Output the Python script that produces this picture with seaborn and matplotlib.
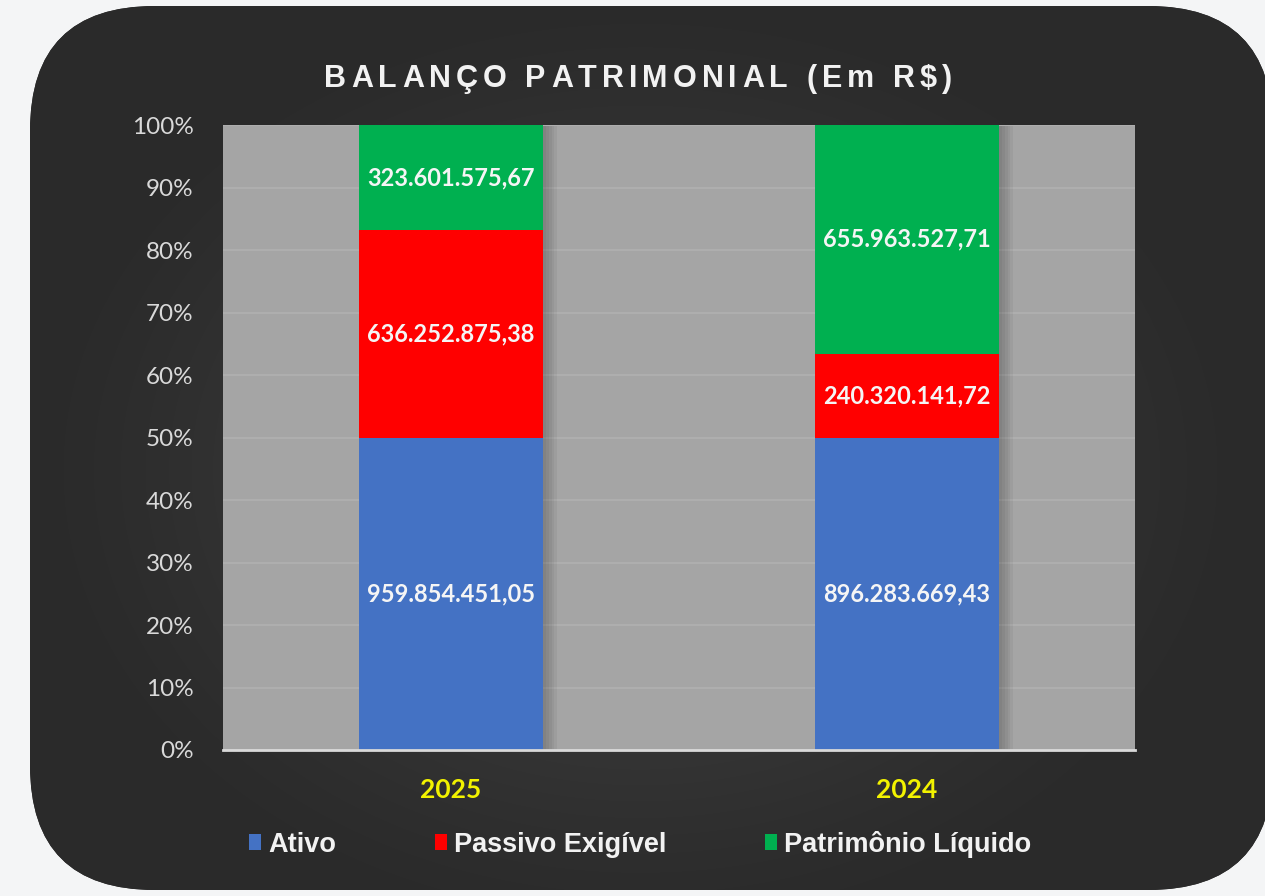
import numpy as np
import pandas as pd
import matplotlib
matplotlib.use("Agg")
import matplotlib.pyplot as plt
import seaborn as sns
from matplotlib.patches import FancyBboxPatch, Patch
from matplotlib.ticker import PercentFormatter, MultipleLocator
import matplotlib.patheffects as pe

# Balance sheet values (R$)
years = ["2025", "2024"]
ativo = [959854451.05, 896283669.43]
passivo = [636252875.38, 240320141.72]
patrimonio = [323601575.67, 655963527.71]
series_names = ["Ativo", "Passivo Exigível", "Patrimônio Líquido"]
series_colors = ["#4472c4", "#ff0000", "#00b050"]
title = "BALANÇO PATRIMONIAL (Em R$)"

W, H = 1265, 896
sns.set_theme(style="white")
plt.rcParams["font.family"] = ["Lato", "DejaVu Sans"]
ARIAL = ["Liberation Sans", "DejaVu Sans"]

fig = plt.figure(figsize=(W / 100, H / 100), dpi=100)
fig.patch.set_facecolor("#f4f5f6")

# Rounded dark card with a soft radial glow
bg = fig.add_axes([0, 0, 1, 1])
bg.set_xlim(0, W)
bg.set_ylim(H, 0)
bg.axis("off")
card = FancyBboxPatch((30, 6), 1243, 884, boxstyle="round,pad=0,rounding_size=125",
                      facecolor="#2a2a2a", edgecolor="none", zorder=0)
bg.add_patch(card)
yy, xx = np.mgrid[0:H, 0:W]
r = np.sqrt(((xx - 640) / 620.0) ** 2 + ((yy - 470) / 480.0) ** 2)
glow = np.clip(1 - r, 0, 1) ** 1.3
dark = np.array([0x2a, 0x2a, 0x2a]) / 255
light = np.array([0x4a, 0x4a, 0x4a]) / 255
img = dark + (light - dark) * glow[..., None]
im = bg.imshow(img, extent=(0, W, H, 0), zorder=1, interpolation="bilinear")
im.set_clip_path(card)

# Stacked 100% columns
df = pd.DataFrame({"ano": years, "Ativo": ativo, "Passivo Exigível": passivo,
                   "Patrimônio Líquido": patrimonio})
total = df[series_names].sum(axis=1)
pct = df[series_names].div(total, axis=0) * 100
cum = pct.cumsum(axis=1)

ax = fig.add_axes([223 / W, 1 - 750 / H, 912 / W, 625 / H])
ax.set_facecolor("#a5a5a5")
ax.set_axisbelow(True)

for name, color in reversed(list(zip(series_names, series_colors))):
    sns.barplot(x=df["ano"], y=cum[name], color=color, saturation=1, width=0.405,
                order=years, ax=ax, zorder=3, edgecolor="none", linewidth=0)

# Soft shadow to the right of each full column (the tallest bars drawn first)
soft_shadow = [pe.SimplePatchShadow(offset=(k, -0.5), shadow_rgbFace="black", alpha=0.045)
               for k in (10, 8, 6, 4, 2)] + [pe.Normal()]
for bar in ax.patches[:len(years)]:
    bar.set_path_effects(soft_shadow)

# Value labels at the middle of each segment
for i, yr in enumerate(years):
    lower = 0.0
    for name in series_names:
        p = pct.loc[i, name]
        val = df.loc[i, name]
        txt = f"{val:,.2f}".replace(",", "X").replace(".", ",").replace("X", ".")
        ax.text(i, lower + p / 2, txt, ha="center", va="center", color="#f5f5f5",
                fontsize=17, fontweight="bold", zorder=5)
        lower += p

ax.set_ylim(0, 100)
ax.set_xlim(-0.5, 1.5)
ax.yaxis.set_major_locator(MultipleLocator(10))
ax.yaxis.set_major_formatter(PercentFormatter(100, decimals=0))
ax.grid(axis="y", color="#b0b0b0", linewidth=1.2)
ax.grid(axis="x", visible=False)
for s in ["top", "right", "left"]:
    ax.spines[s].set_visible(False)
ax.spines["bottom"].set_color("#d9d9d9")
ax.spines["bottom"].set_linewidth(2)
ax.spines["bottom"].set_zorder(6)
ax.tick_params(axis="y", length=0, pad=21, labelsize=17.5, labelcolor="#d9d9d9")
ax.tick_params(axis="x", length=0, pad=20, labelsize=19, labelcolor="#f2f200")
for lab in ax.get_xticklabels():
    lab.set_fontweight("bold")
ax.set_xlabel("")
ax.set_ylabel("")

# Letter-spaced title, laid out glyph by glyph
renderer = fig.canvas.get_renderer()
tracking = 5.1
title_kw = dict(color="#f2f2f2", fontsize=22, fontweight="bold", family=ARIAL, va="center")
widths = []
for ch in title:
    t = fig.text(0, 0, ch if ch != " " else "\u00a0", **title_kw)
    widths.append(t.get_window_extent(renderer).width)
    t.remove()
full = sum(widths) + tracking * (len(title) - 1)
x = 638 - full / 2
for ch, w in zip(title, widths):
    if ch != " ":
        fig.text(x / W, 1 - 79 / H, ch, ha="left", **title_kw)
    x += w + tracking

handles = [Patch(facecolor=c, edgecolor="none") for c in series_colors]
leg = fig.legend(handles, series_names, loc="center", bbox_to_anchor=(640 / W, 1 - 844 / H),
                 ncol=3, frameon=False, handlelength=0.45, handleheight=0.5, handletextpad=0.26,
                 columnspacing=3.65, prop={"family": ARIAL, "weight": "bold", "size": 19.5})
for t in leg.get_texts():
    t.set_color("#f2f2f2")

fig.savefig("out.png", dpi=100, facecolor=fig.get_facecolor())
